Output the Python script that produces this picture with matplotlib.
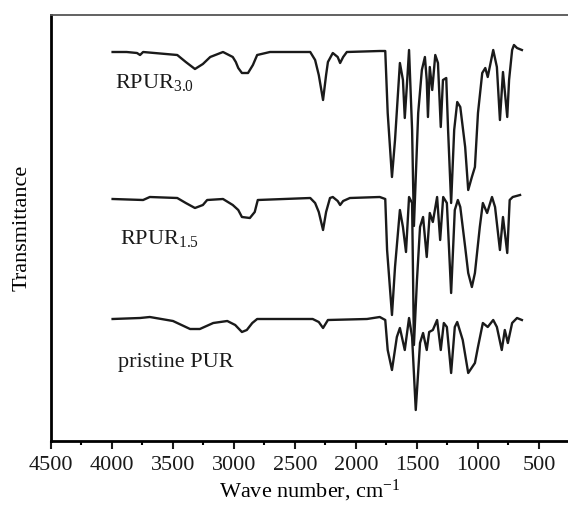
import matplotlib
matplotlib.use("Agg")
import matplotlib.pyplot as plt
from matplotlib.ticker import MultipleLocator

plt.rcParams['font.family'] = ['Liberation Serif', 'DejaVu Serif']
plt.rcParams['mathtext.fontset'] = 'custom'
plt.rcParams['mathtext.rm'] = 'Liberation Serif'
plt.rcParams['mathtext.it'] = 'Liberation Serif:italic'

# spectra, wave number (cm-1) and transmittance (a.u., relative to own baseline)
wn_30 = [3995, 3880, 3795, 3770, 3745, 3465, 3395, 3320, 3255, 3195, 3090, 3010,
         2985, 2965, 2935, 2885, 2845, 2810, 2705, 2375, 2335, 2305, 2270, 2245,
         2230, 2190, 2150, 2130, 2105, 2075, 1805, 1760, 1740, 1705, 1680, 1640,
         1615, 1600, 1580, 1565, 1540, 1525, 1490, 1460, 1435, 1420, 1410, 1395,
         1375, 1350, 1328, 1305, 1287, 1260, 1245, 1220, 1195, 1170, 1145, 1105,
         1080, 1050, 1025, 1000, 965, 940, 920, 875, 845, 820, 795, 760, 745,
         720, 705, 680, 640]
t_30 = [-1, -1, -2, -4, -1, -4, -11, -18, -13, -6, -1, -6,
        -11, -17, -22, -22, -14, -4, -1, -1, -9, -24, -49, -24,
        -11, -2, -6, -12, -6, -1, 0, 0, -62, -126, -89, -12,
        -29, -67, -29, 1, -79, -175, -62, -19, -6, -29, -66, -16,
        -39, -4, -12, -76, -29, -27, -79, -152, -79, -51, -56, -96,
        -139, -126, -116, -62, -22, -17, -26, 1, -16, -69, -21, -66, -29,
        1, 6, 3, 1]

wn_15 = [3995, 3745, 3690, 3465, 3395, 3320, 3255, 3220, 3090, 3010, 2965, 2935,
         2870, 2830, 2805, 2375, 2335, 2305, 2270, 2245, 2213, 2190, 2150, 2130,
         2105, 2050, 1805, 1760, 1745, 1705, 1680, 1640, 1615, 1590, 1565, 1540,
         1525, 1500, 1475, 1450, 1420, 1395, 1370, 1335, 1310, 1285, 1255, 1220,
         1190, 1165, 1145, 1105, 1080, 1050, 1025, 985, 960, 925, 885, 860, 820,
         795, 760, 740, 715, 655]
t_15 = [-1, -2, 1, 0, -5, -10, -7, -2, -1, -7, -12, -19,
        -20, -14, -2, 0, -5, -14, -32, -14, 0, 1, -3, -7,
        -3, 0, 1, -1, -52, -117, -69, -12, -29, -54, 1, -5,
        -147, -82, -29, -19, -59, -15, -24, 1, -42, 1, -5, -95,
        -12, -2, -9, -49, -75, -89, -75, -29, -5, -15, 1, -9, -52,
        -19, -55, -2, 1, 3]

wn_pur = [3995, 3770, 3690, 3500, 3360, 3280, 3170, 3055, 2990, 2935, 2895, 2850,
          2810, 2355, 2305, 2270, 2230, 1910, 1805, 1760, 1740, 1705, 1665, 1640,
          1600, 1565, 1540, 1510, 1475, 1450, 1420, 1400, 1370, 1335, 1305, 1280,
          1255, 1220, 1190, 1170, 1125, 1080, 1025, 1000, 960, 920, 875, 845, 805,
          780, 755, 720, 680, 640]
t_pur = [0, 1, 2, -2, -10, -10, -4, -2, -6, -13, -11, -4,
         0, 0, -3, -9, -1, 0, 2, -1, -31, -51, -18, -9,
         -31, 1, -18, -91, -24, -14, -31, -13, -11, -1, -31, -4,
         -8, -54, -8, -3, -21, -54, -44, -28, -4, -8, -1, -8, -31,
         -11, -24, -4, 1, -1]

offsets = [390, 243, 122]
labels = [r'RPUR$_{\mathregular{3.0}}$', r'RPUR$_{\mathregular{1.5}}$', 'pristine PUR']
label_pos = [(3975, 353), (3935, 197), (3950, 74)]

fig = plt.figure(figsize=(5.68, 5.05), dpi=100)
ax = fig.add_axes([51 / 568, 64 / 505, 517 / 568, 426 / 505])

for wn, t, off in zip([wn_30, wn_15, wn_pur], [t_30, t_15, t_pur], offsets):
    ax.plot(wn, [v + off for v in t], color='#1a1a1a', lw=1.7)

for lab, (lx, ly) in zip(labels, label_pos):
    ax.text(lx, ly, lab, fontsize=16, ha='left', va='baseline', color='#1a1a1a')

ax.set_xlim(4500, 262)
ax.set_ylim(0, 426)
ax.xaxis.set_major_locator(MultipleLocator(500))
ax.xaxis.set_minor_locator(MultipleLocator(250))
ax.set_yticks([])
ax.tick_params(axis='x', which='major', direction='out', length=6, width=1.5,
               labelsize=16, pad=5, colors='#1a1a1a')
ax.tick_params(axis='x', which='minor', direction='out', length=3, width=1.5)

ax.spines['right'].set_visible(False)
ax.spines['top'].set_color('#555555')
ax.spines['top'].set_linewidth(1.3)
ax.spines['left'].set_linewidth(2)
ax.spines['bottom'].set_linewidth(2)

ax.set_xlabel(r'Wave number, cm$^{\mathregular{-1}}$', fontsize=16, labelpad=2)
ax.set_ylabel('Transmittance', fontsize=16, labelpad=14)

fig.savefig('out.png', dpi=100)
